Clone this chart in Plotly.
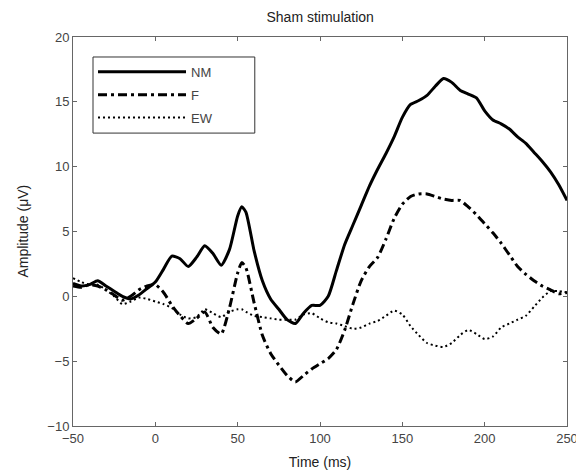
import plotly.graph_objects as go

time_ms = [-50, -45, -40, -35, -30, -25, -20, -15, -10, -5, 0, 5, 10, 15, 20, 25, 30, 35, 40, 45,
           50, 52.5, 55, 60, 65, 70, 75, 80, 85, 90, 95, 100, 105, 110, 115, 120, 125, 130, 135, 140,
           145, 150, 155, 160, 165, 170, 175, 180, 185, 190, 195, 200, 205, 210, 215, 220, 225, 230,
           235, 240, 245, 250]

nm = [1.0, 0.8, 0.9, 1.2, 0.8, 0.4, 0.0, -0.2, 0.1, 0.6, 1.1, 2.1, 3.1, 2.9, 2.3, 3.0, 3.9, 3.3, 2.4, 3.6,
      6.2, 6.9, 6.5, 3.5, 1.2, -0.2, -1.0, -1.8, -2.1, -1.3, -0.7, -0.7, 0.0, 2.0, 4.0, 5.5, 7.0, 8.5, 9.8, 11.0,
      12.3, 13.8, 14.8, 15.1, 15.5, 16.2, 16.8, 16.5, 15.9, 15.6, 15.3, 14.3, 13.6, 13.3, 12.9, 12.3, 11.8, 11.1,
      10.4, 9.6, 8.6, 7.4]

f = [0.8, 0.7, 0.9, 0.8, 0.5, 0.1, -0.3, 0.0, 0.5, 0.8, 0.9, 0.3, -0.7, -1.5, -2.1, -1.7, -1.2, -2.4, -2.9, -0.9,
     1.8, 2.6, 2.2, -0.5, -3.0, -4.4, -5.3, -6.1, -6.6, -6.1, -5.6, -5.2, -4.8, -4.1, -2.6, -0.6, 1.2, 2.3, 3.0, 4.4,
     6.0, 7.1, 7.7, 7.9, 7.9, 7.7, 7.5, 7.4, 7.4, 6.9, 6.3, 5.6, 4.9, 4.1, 3.2, 2.3, 1.7, 1.2,
     0.8, 0.5, 0.2, 0.3]

ew = [1.4, 1.1, 0.9, 0.9, 0.5, 0.0, -0.6, -0.4, -0.1, -0.2, -0.4, -0.6, -0.9, -1.4, -1.7, -1.6, -1.0, -1.3, -1.6, -1.2,
      -1.0, -1.0, -1.2, -1.5, -1.6, -1.7, -1.8, -1.8, -1.8, -1.4, -1.3, -1.7, -2.0, -2.1, -2.3, -2.5, -2.4, -2.1, -1.9, -1.5,
      -1.1, -1.4, -2.3, -3.0, -3.6, -3.8, -3.9, -3.6, -3.0, -2.6, -2.9, -3.3, -3.1, -2.4, -2.1, -1.8, -1.5, -0.8,
      -0.1, 0.4, 0.4, 0.3]

x_ticks = [-50, 0, 50, 100, 150, 200, 250]
y_ticks = [-10, -5, 0, 5, 10, 15, 20]

FONT = "Liberation Sans, Arial, sans-serif"

fig = go.Figure()
fig.add_trace(go.Scatter(x=time_ms, y=nm, mode="lines", name="NM", legendgroup="a",
                         line=dict(color="black", width=3, shape="spline", smoothing=0.6)))
fig.add_trace(go.Scatter(x=time_ms, y=f, mode="lines", name="F", legendgroup="b",
                         line=dict(color="black", width=3, dash="9px,4px,3px,4px", shape="spline", smoothing=0.6)))
fig.add_trace(go.Scatter(x=time_ms, y=ew, mode="lines", name="EW", legendgroup="c",
                         line=dict(color="black", width=2, dash="2px,3px", shape="spline", smoothing=0.6)))

axis_common = dict(showgrid=False, zeroline=False, showline=True, linecolor="#666666", linewidth=1,
                   mirror="ticks", ticks="inside", ticklen=4, tickcolor="#666666", automargin=False,
                   tickfont=dict(family=FONT, size=13, color="#444444"))

fig.update_xaxes(range=[-50, 250], tickvals=x_ticks,
                 title=dict(text="Time (ms)", font=dict(family=FONT, size=14, color="#222222"), standoff=12),
                 **axis_common)
fig.update_yaxes(range=[-10, 20], tickvals=y_ticks, **axis_common)

# y-axis title as rotated annotation so it can sit exactly where the reference has it
fig.add_annotation(text="Amplitude (μV)", xref="paper", yref="paper", x=-0.103, y=0.5,
                   xanchor="center", yanchor="middle", textangle=-90, showarrow=False,
                   font=dict(family=FONT, size=14, color="#222222"))

# legend frame (wider than plotly's auto-sized box, as in the reference)
fig.add_shape(type="rect", xref="paper", yref="paper", x0=0.0405, x1=0.368, y0=0.753, y1=0.9486,
              line=dict(color="#333333", width=1), fillcolor="white", layer="below")

# the page body has an 8px default margin, so the figure is sized/positioned to compensate
fig.update_layout(
    width=576, height=468,
    margin=dict(l=65, r=17, t=29, b=50),
    paper_bgcolor="white", plot_bgcolor="white",
    title=dict(text="Sham stimulation", x=0.542, xanchor="center", y=0.981, yanchor="middle",
               font=dict(family=FONT, size=14, color="#222222")),
    legend=dict(x=0.0405, y=0.949, xanchor="left", yanchor="top", borderwidth=0,
                bgcolor="rgba(0,0,0,0)", font=dict(family=FONT, size=13, color="#444444"),
                itemwidth=88, tracegroupgap=3),
    showlegend=True,
)

fig.write_html("out.html")
